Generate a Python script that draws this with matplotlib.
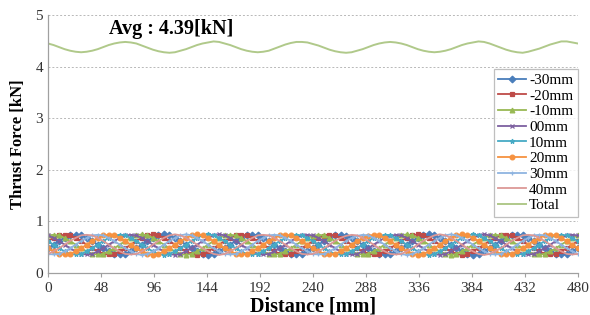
import numpy as np
import matplotlib.pyplot as plt

plt.rcParams['font.family'] = ['Liberation Serif', 'DejaVu Serif']

# distance samples every 5 mm (0..480)
distance = list(range(0, 481, 5))

m30 = [0.48, 0.55, 0.62, 0.68, 0.73, 0.74, 0.73, 0.68, 0.62, 0.55, 0.48, 0.42, 0.37, 0.36, 0.37, 0.42,
       0.48, 0.55, 0.62, 0.68, 0.73, 0.75, 0.73, 0.68, 0.62, 0.55, 0.48, 0.42, 0.37, 0.35, 0.37, 0.42,
       0.48, 0.55, 0.62, 0.68, 0.73, 0.74, 0.73, 0.68, 0.62, 0.55, 0.48, 0.42, 0.37, 0.36, 0.37, 0.42,
       0.48, 0.55, 0.62, 0.68, 0.73, 0.74, 0.72, 0.68, 0.62, 0.55, 0.48, 0.42, 0.37, 0.36, 0.37, 0.42,
       0.48, 0.55, 0.62, 0.68, 0.73, 0.75, 0.73, 0.68, 0.62, 0.55, 0.48, 0.42, 0.37, 0.35, 0.37, 0.42,
       0.48, 0.55, 0.62, 0.68, 0.73, 0.74, 0.73, 0.68, 0.62, 0.55, 0.48, 0.42, 0.37, 0.36, 0.37, 0.42,
       0.48]
m20 = [0.62, 0.68, 0.73, 0.74, 0.73, 0.68, 0.62, 0.55, 0.48, 0.42, 0.37, 0.36, 0.37, 0.42, 0.48, 0.55,
       0.62, 0.68, 0.73, 0.75, 0.73, 0.68, 0.62, 0.55, 0.48, 0.42, 0.37, 0.35, 0.37, 0.42, 0.48, 0.55,
       0.62, 0.68, 0.73, 0.74, 0.73, 0.68, 0.62, 0.55, 0.48, 0.42, 0.37, 0.36, 0.37, 0.42, 0.48, 0.55,
       0.62, 0.68, 0.72, 0.74, 0.73, 0.68, 0.62, 0.55, 0.48, 0.42, 0.37, 0.36, 0.37, 0.42, 0.48, 0.55,
       0.62, 0.68, 0.73, 0.75, 0.73, 0.68, 0.62, 0.55, 0.48, 0.42, 0.37, 0.35, 0.37, 0.42, 0.48, 0.55,
       0.62, 0.68, 0.73, 0.74, 0.73, 0.68, 0.62, 0.55, 0.48, 0.42, 0.37, 0.36, 0.37, 0.42, 0.48, 0.55,
       0.62]
m10 = [0.73, 0.74, 0.73, 0.68, 0.62, 0.55, 0.48, 0.42, 0.37, 0.36, 0.37, 0.42, 0.48, 0.55, 0.62, 0.68,
       0.73, 0.75, 0.73, 0.68, 0.62, 0.55, 0.48, 0.42, 0.37, 0.35, 0.37, 0.42, 0.48, 0.55, 0.62, 0.68,
       0.73, 0.74, 0.73, 0.68, 0.62, 0.55, 0.48, 0.42, 0.37, 0.36, 0.37, 0.42, 0.48, 0.55, 0.62, 0.68,
       0.72, 0.74, 0.73, 0.68, 0.62, 0.55, 0.48, 0.42, 0.37, 0.36, 0.37, 0.42, 0.48, 0.55, 0.62, 0.68,
       0.73, 0.75, 0.73, 0.68, 0.62, 0.55, 0.48, 0.42, 0.37, 0.35, 0.37, 0.42, 0.48, 0.55, 0.62, 0.68,
       0.73, 0.74, 0.73, 0.68, 0.62, 0.55, 0.48, 0.42, 0.37, 0.36, 0.37, 0.42, 0.48, 0.55, 0.62, 0.68,
       0.73]
m00 = [0.73, 0.68, 0.62, 0.55, 0.48, 0.42, 0.37, 0.36, 0.37, 0.42, 0.48, 0.55, 0.62, 0.68, 0.73, 0.74,
       0.73, 0.68, 0.62, 0.55, 0.48, 0.42, 0.37, 0.35, 0.37, 0.42, 0.48, 0.55, 0.62, 0.68, 0.73, 0.75,
       0.73, 0.68, 0.62, 0.55, 0.48, 0.42, 0.37, 0.36, 0.37, 0.42, 0.48, 0.55, 0.62, 0.68, 0.73, 0.74,
       0.73, 0.68, 0.62, 0.55, 0.48, 0.42, 0.37, 0.36, 0.37, 0.42, 0.48, 0.55, 0.62, 0.68, 0.72, 0.74,
       0.73, 0.68, 0.62, 0.55, 0.48, 0.42, 0.37, 0.35, 0.37, 0.42, 0.48, 0.55, 0.62, 0.68, 0.73, 0.75,
       0.73, 0.68, 0.62, 0.55, 0.48, 0.42, 0.37, 0.36, 0.37, 0.42, 0.48, 0.55, 0.62, 0.68, 0.73, 0.74,
       0.73]
p10 = [0.62, 0.55, 0.48, 0.42, 0.37, 0.36, 0.37, 0.42, 0.48, 0.55, 0.62, 0.68, 0.73, 0.74, 0.73, 0.68,
       0.62, 0.55, 0.48, 0.42, 0.37, 0.35, 0.37, 0.42, 0.48, 0.55, 0.62, 0.68, 0.73, 0.75, 0.73, 0.68,
       0.62, 0.55, 0.48, 0.42, 0.37, 0.36, 0.37, 0.42, 0.48, 0.55, 0.62, 0.68, 0.73, 0.74, 0.73, 0.68,
       0.62, 0.55, 0.48, 0.42, 0.37, 0.36, 0.37, 0.42, 0.48, 0.55, 0.62, 0.68, 0.72, 0.74, 0.73, 0.68,
       0.62, 0.55, 0.48, 0.42, 0.37, 0.35, 0.37, 0.42, 0.48, 0.55, 0.62, 0.68, 0.73, 0.75, 0.73, 0.68,
       0.62, 0.55, 0.48, 0.42, 0.37, 0.36, 0.37, 0.42, 0.48, 0.55, 0.62, 0.68, 0.73, 0.74, 0.73, 0.68,
       0.62]
p20 = [0.48, 0.42, 0.37, 0.36, 0.37, 0.42, 0.48, 0.55, 0.62, 0.68, 0.73, 0.74, 0.73, 0.68, 0.62, 0.55,
       0.48, 0.42, 0.37, 0.35, 0.37, 0.42, 0.48, 0.55, 0.62, 0.68, 0.73, 0.75, 0.73, 0.68, 0.62, 0.55,
       0.48, 0.42, 0.37, 0.36, 0.37, 0.42, 0.48, 0.55, 0.62, 0.68, 0.73, 0.74, 0.73, 0.68, 0.62, 0.55,
       0.48, 0.42, 0.37, 0.36, 0.37, 0.42, 0.48, 0.55, 0.62, 0.68, 0.72, 0.74, 0.73, 0.68, 0.62, 0.55,
       0.48, 0.42, 0.37, 0.35, 0.37, 0.42, 0.48, 0.55, 0.62, 0.68, 0.73, 0.75, 0.73, 0.68, 0.62, 0.55,
       0.48, 0.42, 0.37, 0.36, 0.37, 0.42, 0.48, 0.55, 0.62, 0.68, 0.73, 0.74, 0.73, 0.68, 0.62, 0.55,
       0.48]
p30 = [0.37, 0.36, 0.37, 0.42, 0.48, 0.55, 0.62, 0.68, 0.73, 0.74, 0.73, 0.68, 0.62, 0.55, 0.48, 0.42,
       0.37, 0.35, 0.37, 0.42, 0.48, 0.55, 0.62, 0.68, 0.73, 0.75, 0.73, 0.68, 0.62, 0.55, 0.48, 0.42,
       0.37, 0.36, 0.37, 0.42, 0.48, 0.55, 0.62, 0.68, 0.73, 0.74, 0.73, 0.68, 0.62, 0.55, 0.48, 0.42,
       0.37, 0.36, 0.37, 0.42, 0.48, 0.55, 0.62, 0.68, 0.72, 0.74, 0.73, 0.68, 0.62, 0.55, 0.48, 0.42,
       0.37, 0.35, 0.37, 0.42, 0.48, 0.55, 0.62, 0.68, 0.73, 0.75, 0.73, 0.68, 0.62, 0.55, 0.48, 0.42,
       0.37, 0.36, 0.37, 0.42, 0.48, 0.55, 0.62, 0.68, 0.73, 0.74, 0.73, 0.68, 0.62, 0.55, 0.48, 0.42,
       0.37]
p40 = [0.37, 0.42, 0.48, 0.55, 0.62, 0.68, 0.73, 0.74, 0.73, 0.68, 0.62, 0.55, 0.48, 0.42, 0.37, 0.36,
       0.37, 0.42, 0.48, 0.55, 0.62, 0.68, 0.73, 0.75, 0.73, 0.68, 0.62, 0.55, 0.48, 0.42, 0.37, 0.35,
       0.37, 0.42, 0.48, 0.55, 0.62, 0.68, 0.73, 0.74, 0.73, 0.68, 0.62, 0.55, 0.48, 0.42, 0.37, 0.36,
       0.37, 0.42, 0.48, 0.55, 0.62, 0.68, 0.72, 0.74, 0.73, 0.68, 0.62, 0.55, 0.48, 0.42, 0.37, 0.36,
       0.37, 0.42, 0.48, 0.55, 0.62, 0.68, 0.73, 0.75, 0.73, 0.68, 0.62, 0.55, 0.48, 0.42, 0.37, 0.35,
       0.37, 0.42, 0.48, 0.55, 0.62, 0.68, 0.73, 0.74, 0.73, 0.68, 0.62, 0.55, 0.48, 0.42, 0.37, 0.36,
       0.37]
total = [4.45, 4.42, 4.38, 4.34, 4.31, 4.29, 4.28, 4.29, 4.31, 4.34, 4.38, 4.42, 4.45, 4.47, 4.48, 4.47,
         4.45, 4.41, 4.37, 4.33, 4.30, 4.28, 4.27, 4.28, 4.31, 4.34, 4.38, 4.42, 4.45, 4.47, 4.49, 4.48,
         4.45, 4.42, 4.38, 4.34, 4.31, 4.29, 4.28, 4.29, 4.31, 4.35, 4.39, 4.43, 4.46, 4.48, 4.48, 4.47,
         4.44, 4.41, 4.37, 4.33, 4.30, 4.28, 4.27, 4.28, 4.31, 4.34, 4.38, 4.42, 4.45, 4.47, 4.48, 4.47,
         4.45, 4.42, 4.38, 4.34, 4.31, 4.29, 4.28, 4.29, 4.31, 4.34, 4.38, 4.42, 4.45, 4.47, 4.49, 4.48,
         4.45, 4.41, 4.37, 4.33, 4.30, 4.28, 4.27, 4.29, 4.32, 4.35, 4.39, 4.43, 4.46, 4.49, 4.49, 4.47,
         4.45]

labels = ['-30mm', '-20mm', '-10mm', '00mm', '10mm', '20mm', '30mm', '40mm', 'Total']
series = [m30, m20, m10, m00, p10, p20, p30, p40, total]
colors = ['#4A7EBB', '#BE4B48', '#98B954', '#7D60A0', '#46AAC5', '#F69240',
          '#8FB4E0', '#DC9896', '#B0C98A']
markers = ['D', 's', '^', 'x', '*', 'o', '+', None, None]

fig = plt.figure(figsize=(5.9, 3.15), dpi=100)
ax = fig.add_axes([0.0814, 0.1333, 0.898, 0.8187])

for y, lab, c, mk in zip(series, labels, colors, markers):
    ax.plot(distance, y, color=c, lw=1.4 if lab == 'Total' else 1.3, marker=mk,
            markersize=3.4, markeredgewidth=0.9, label=lab)

ax.set_xlim(0, 480)
ax.set_ylim(0, 5)
ax.set_xticks(range(0, 481, 48))
ax.set_yticks(range(0, 6))
ax.tick_params(labelsize=11, colors='#333333', length=3, color='#A0A0A0', width=0.8)
ax.tick_params(axis='y', length=0)
for side in ['top', 'right']:
    ax.spines[side].set_visible(False)
for side in ['left', 'bottom']:
    ax.spines[side].set_color('#A0A0A0')
    ax.spines[side].set_linewidth(0.9)
ax.yaxis.grid(True, linestyle=(0, (2, 2)), color='#B8B8B8', lw=0.7)
ax.set_axisbelow(True)

ax.set_xlabel('Distance [mm]', fontsize=14.5, fontweight='bold', labelpad=1)
ax.set_ylabel('Thrust Force [kN]', fontsize=12, fontweight='bold', labelpad=7)

ax.text(112, 4.74, 'Avg : 4.39[kN]', fontsize=14.5, fontweight='bold',
        ha='center', va='center')

leg = ax.legend(loc='upper left', bbox_to_anchor=(0.8415, 0.792), fontsize=11,
                frameon=True, fancybox=False, edgecolor='#B0B0B0',
                handlelength=1.8, handletextpad=0.2, labelspacing=0.13,
                borderpad=0.3, borderaxespad=0)
leg.get_frame().set_linewidth(0.9)

fig.savefig('out.png', dpi=100)
